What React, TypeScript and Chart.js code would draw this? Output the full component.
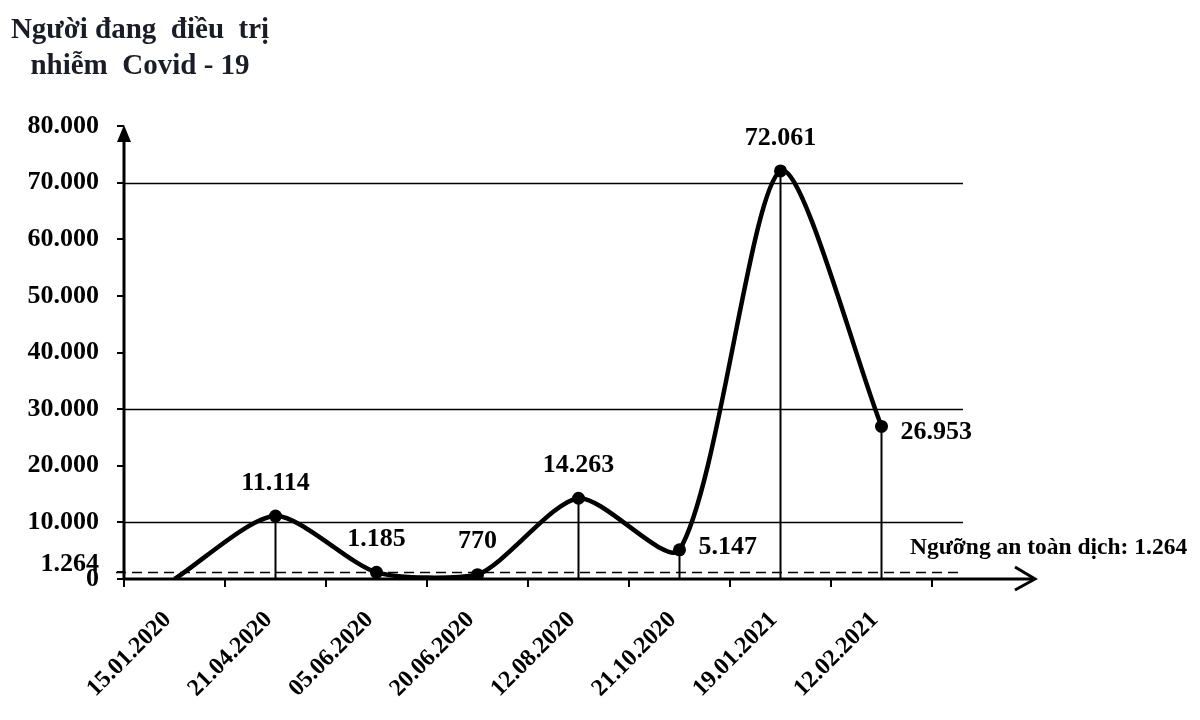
import { useEffect, useRef } from 'react';
import { Chart, registerables } from 'chart.js';

Chart.register(...registerables);

const titleLines = ['Người đang  điều  trị', 'nhiễm  Covid - 19'];
const categories = ['15.01.2020', '21.04.2020', '05.06.2020', '20.06.2020', '12.08.2020', '21.10.2020', '19.01.2021', '12.02.2021'];
const patients = [0, 11114, 1185, 770, 14263, 5147, 72061, 26953];
const valueLabels = ['', '11.114', '1.185', '770', '14.263', '5.147', '72.061', '26.953'];
const yTickValues = [0, 1264, 10000, 20000, 30000, 40000, 50000, 60000, 70000, 80000];
const yTickLabels = ['0', '1.264', '10.000', '20.000', '30.000', '40.000', '50.000', '60.000', '70.000', '80.000'];
const gridValues = [10000, 30000, 70000];
const safeThreshold = 1264;
const thresholdLabel = 'Ngưỡng an toàn dịch: 1.264';

// label placement style (not data)
const labelPlacement = ['none', 'above', 'above', 'above', 'above', 'right', 'above', 'right'];

const FONT = '"Liberation Serif", "Times New Roman", serif';

const decor = {
  id: 'decor',
  beforeDatasetsDraw(chart: any) {
    const { ctx, chartArea, scales } = chart;
    const y = scales.y;
    const { left, right, top, bottom } = chartArea;
    const gridRight = right + 31;
    const line = (x1: number, y1: number, x2: number, y2: number) => {
      ctx.beginPath();
      ctx.moveTo(x1, y1);
      ctx.lineTo(x2, y2);
      ctx.stroke();
    };
    ctx.save();
    ctx.strokeStyle = '#000';
    ctx.fillStyle = '#000';
    ctx.lineWidth = 1.5;
    gridValues.forEach((v) => {
      const py = Math.round(y.getPixelForValue(v)) + 0.5;
      line(left, py, gridRight, py);
    });
    // safety threshold dashed line
    ctx.setLineDash([10, 6]);
    const ty = Math.round(y.getPixelForValue(safeThreshold)) + 0.5;
    line(left - 8, ty, gridRight, ty);
    ctx.setLineDash([]);
    // drop lines
    const meta = chart.getDatasetMeta(0);
    ctx.lineWidth = 2;
    meta.data.forEach((pt: any, i: number) => {
      if (i === 0) return;
      line(pt.x, pt.y, pt.x, bottom);
    });
    // axes
    ctx.lineWidth = 3;
    line(left, bottom + 1, left, top + 10);
    ctx.beginPath();
    ctx.moveTo(left, top - 1);
    ctx.lineTo(left - 7, top + 16);
    ctx.lineTo(left + 7, top + 16);
    ctx.closePath();
    ctx.fill();
    const tipX = right + 103;
    line(left - 1, bottom, tipX, bottom);
    ctx.beginPath();
    ctx.moveTo(tipX - 20, bottom - 12);
    ctx.lineTo(tipX, bottom);
    ctx.lineTo(tipX - 20, bottom + 11);
    ctx.stroke();
    ctx.restore();
  },
  afterDatasetsDraw(chart: any) {
    const { ctx, chartArea, scales } = chart;
    const y = scales.y;
    ctx.save();
    ctx.fillStyle = '#000';
    // value labels
    ctx.font = `bold 26px ${FONT}`;
    ctx.textBaseline = 'middle';
    const meta = chart.getDatasetMeta(0);
    meta.data.forEach((pt: any, i: number) => {
      const place = labelPlacement[i];
      if (place === 'none') return;
      if (place === 'above') {
        ctx.textAlign = 'center';
        ctx.fillText(valueLabels[i], pt.x, pt.y - 33);
      } else {
        ctx.textAlign = 'left';
        ctx.fillText(valueLabels[i], pt.x + 19, pt.y + (i === 7 ? 6 : -3));
      }
    });
    // y label for threshold (drawn separately to avoid overlap with 0)
    ctx.textAlign = 'right';
    ctx.fillText(yTickLabels[1], chartArea.left - 25, y.getPixelForValue(safeThreshold) - 8);
    // threshold label
    ctx.font = `bold 23.5px ${FONT}`;
    ctx.textAlign = 'left';
    ctx.fillText(thresholdLabel, chartArea.right - 22, y.getPixelForValue(safeThreshold) - 24);
    // title
    ctx.font = `bold 29px ${FONT}`;
    ctx.fillStyle = '#1c1c28';
    ctx.textAlign = 'center';
    ctx.fillText(titleLines[0], 140, 31);
    ctx.fillText(titleLines[1], 140, 67);
    ctx.restore();
  },
};

export default function App() {
  const ref = useRef<HTMLCanvasElement | null>(null);
  useEffect(() => {
    if (!ref.current) return;
    const chart = new Chart(ref.current, {
      type: 'line',
      data: {
        labels: categories,
        datasets: [
          {
            data: patients,
            borderColor: '#000',
            borderWidth: 4.5,
            tension: 0.25,
            pointRadius: patients.map((_, i) => (i === 0 ? 0 : 6.5)),
            pointBackgroundColor: '#000',
            pointBorderColor: '#000',
            pointBorderWidth: 0,
            fill: false,
          },
        ],
      },
      options: {
        responsive: false,
        animation: false,
        layout: { padding: { left: 0, top: 126, right: 268, bottom: 0 } },
        plugins: {
          legend: { display: false },
          tooltip: { enabled: false },
        },
        scales: {
          x: {
            type: 'category',
            offset: true,
            border: { display: false },
            grid: {
              offset: true,
              drawOnChartArea: false,
              drawTicks: true,
              tickLength: 8,
              color: '#000',
              lineWidth: 2,
            },
            ticks: {
              autoSkip: false,
              maxRotation: 45,
              minRotation: 45,
              padding: 19,
              labelOffset: -7,
              color: '#000',
              font: { family: FONT, size: 24, weight: 'bold' },
            },
            afterFit: (s: any) => {
              s.height = 141;
            },
          },
          y: {
            min: 0,
            max: 80000,
            border: { display: false },
            afterBuildTicks: (s: any) => {
              s.ticks = yTickValues.map((v) => ({ value: v }));
            },
            grid: {
              drawOnChartArea: false,
              drawTicks: true,
              tickLength: 7,
              color: '#000',
              lineWidth: 2,
            },
            ticks: {
              autoSkip: false,
              padding: 18,
              color: '#000',
              font: { family: FONT, size: 26, weight: 'bold' },
              callback: (value: any) => {
                const idx = yTickValues.indexOf(Number(value));
                if (idx === 1) return '';
                return idx >= 0 ? yTickLabels[idx] : '';
              },
            },
            afterFit: (s: any) => {
              s.width = 124;
            },
          },
        },
      } as any,
      plugins: [decor],
    });
    return () => chart.destroy();
  }, []);
  return (
    <div style={{ position: 'absolute', left: 0, top: 0, width: 1200, height: 720, background: '#fff' }}>
      <canvas ref={ref} width={1200} height={720} style={{ width: 1200, height: 720, display: 'block' }} />
    </div>
  );
}
